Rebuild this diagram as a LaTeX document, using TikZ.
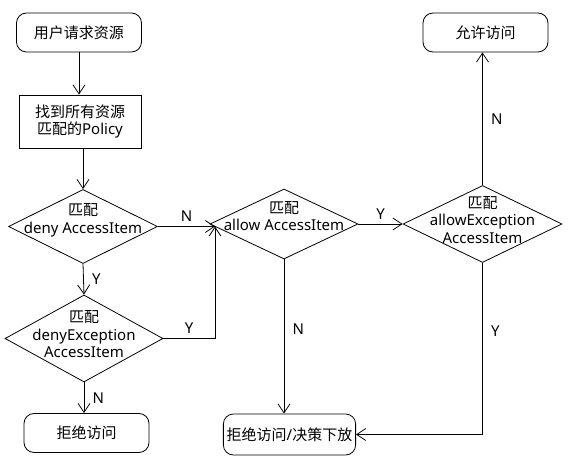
\documentclass[tikz,border=0pt]{standalone}
\usepackage{fontspec}
\setmainfont{Noto Sans}
\newfontfamily\cjk{Noto Sans CJK SC}
\usetikzlibrary{positioning,shapes.geometric,arrows.meta}

\begin{document}
\begin{tikzpicture}[x=1pt, y=-1pt, line width=0.8pt,
	>={Straight Barb[length=9pt,width=12pt]},
	font=\fontsize{15pt}{17.5pt}\selectfont,
	rstyle/.style={draw, rounded corners=10pt, minimum width=125pt,
	minimum height=39pt},
	bstyle/.style={draw, minimum width=122pt, minimum height=53pt, align=center},
	dstyle/.style={draw, diamond, inner sep=0pt},
	tstyle/.style={align=center, inner sep=0pt},
	]
	\useasboundingbox (0,0) rectangle (574,470);
	
	\node[rstyle] (start) at (79,32.5) {\cjk 用户请求资源};
	\node[bstyle] (find) at (80,121.5) {{\cjk 找到所有资源}\\{\cjk 匹配的}Policy};
	\node[dstyle, minimum width=149pt, minimum height=74pt,
	label={[tstyle, yshift=6pt]center:{\cjk 匹配}\\deny AccessItem}] (d1) at (83,226.5) {};
	\node[dstyle, minimum width=158pt, minimum height=87pt,
	label={[tstyle, yshift=4pt]center:{\cjk 匹配}\\denyException\\AccessItem}] (d2) at (84,338.5) {};
	\node[dstyle, minimum width=148pt, minimum height=70pt,
	label={[tstyle, yshift=8pt]center:{\cjk 匹配}\\allow AccessItem}] (d3) at (284,224) {};
	\node[dstyle, minimum width=159pt, minimum height=77pt,
	label={[tstyle, yshift=4pt]center:{\cjk 匹配}\\allowException\\AccessItem}] (d4) at (482.5,224) {};
	\node[rstyle] (deny) at (86.5,433) {\cjk 拒绝访问};
	\node[rstyle, minimum height=41pt] (delegate) at (289.5,434.5) {{\cjk 拒绝访问}/{\cjk 决策下放}};
	\node[rstyle] (allow) at (485.5,32.5) {\cjk 允许访问};
	\coordinate (join) at (215,226.5);
	
	\draw[->] (start.south) -- (start.south |- find.north);
	\draw[->] (d1.north |- find.south) -- (d1.north);
	\draw[->] (d1.south) -- node[right=5pt] (y1) {Y} (d2.north);
	\draw[->] (d1.east) -- node[above=1pt] (n1) {N} (join);
	\draw[->] (d2.south) -- node[right=5pt] (n2) {N} (d2.south |- deny.north);
	\draw[->] (d2.east) -| node[above=1pt, pos=0.25] (y2) {Y} (join);
	\draw[->] (d3.east) -- node[above=1pt] (y3) {Y} (d4.west);
	\draw[->] (d3.south) -- node[right=5pt, pos=0.45] (n3) {N} (d3.south |- delegate.north);
	\draw[->] (d4.north) -- node[right=5pt] (n4) {N} (d4.north |- allow.south);
	\draw[->] (d4.south) |- node[right=5pt, pos=0.2] (y4) {Y} (delegate.east);
\end{tikzpicture}
\end{document}
